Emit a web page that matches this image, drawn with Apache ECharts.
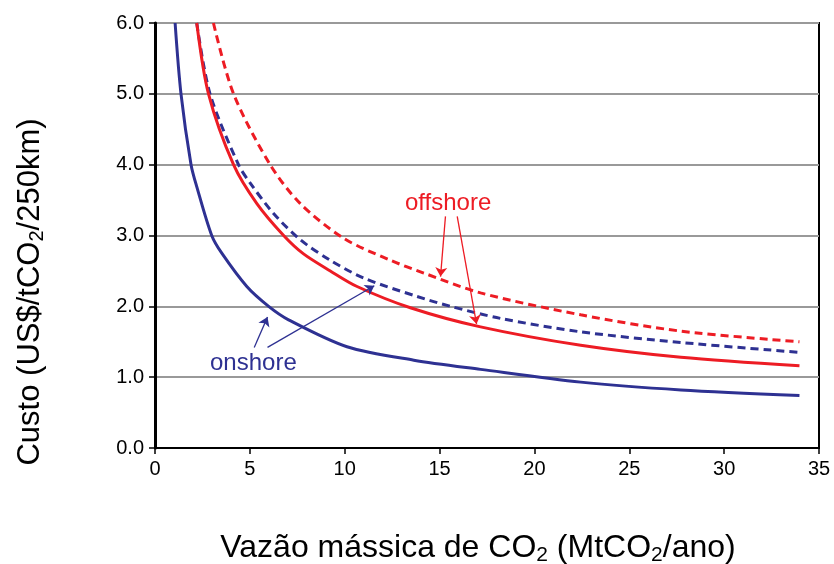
<!DOCTYPE html>
<html>
<head>
<meta charset="utf-8">
<script src="https://cdn.jsdelivr.net/npm/echarts@6/dist/echarts.min.js"></script>
<style>
  html, body { margin: 0; padding: 0; background: #fff; }
  #chart { width: 834px; height: 564px; }
</style>
</head>
<body>
<div id="chart"></div>
<script>
// valores: [vazão MtCO2/ano, custo US$/tCO2/250km]
var onshoreSolid = [[1.06, 6.0], [1.37, 5.0], [1.9, 4.0], [2.2, 3.69], [2.99, 3.0], [3.52, 2.75], [4.84, 2.28],
  [5.99, 2.0], [7.04, 1.81], [10.12, 1.43], [13.64, 1.24], [17.16, 1.11], [22.44, 0.93],
  [27.72, 0.82], [33.97, 0.74]];
var onshoreDashed = [[2.2, 6.0], [2.9, 5.0], [4.4, 4.0], [5.02, 3.74], [6.25, 3.31], [7.66, 2.94], [9.24, 2.65],
  [11.0, 2.4], [13.8, 2.14], [15.58, 2.0], [18.2, 1.83], [22.44, 1.64], [27.72, 1.49], [33.97, 1.35]];
var offshoreSolid = [[2.2, 6.0], [2.82, 5.0], [4.14, 4.0], [5.37, 3.45], [6.78, 3.0], [7.83, 2.74], [9.24, 2.5],
  [10.65, 2.28], [13.46, 1.98], [17.16, 1.71], [22.44, 1.45], [27.72, 1.28], [33.97, 1.16]];
var offshoreDashed = [[3.08, 6.0], [4.14, 5.0], [6.07, 4.0], [7.66, 3.45], [9.95, 2.96], [12.41, 2.65],
  [14.17, 2.47], [17.16, 2.19], [22.44, 1.88], [27.72, 1.65], [33.97, 1.5]];

// setas das anotações (início -> ponta)
var offshoreArrows = [[[15.31, 3.27], [15.05, 2.42]], [[15.93, 3.27], [16.95, 1.75]]];
var onshoreArrows = [[[5.23, 1.42], [5.93, 1.85]], [[5.93, 1.42], [11.56, 2.29]]];

var xTicks = { min: 0, max: 35, interval: 5 };
var yTicks = { min: 0, max: 6, interval: 1 };

var blue = "#2e3192";
var red = "#ed1c24";
var font = "Liberation Sans, Arial, sans-serif";

var myChart = echarts.init(document.getElementById("chart"));

function arrows(list, color) {
  return {
    silent: true,
    symbol: ["none", "arrow"],
    symbolSize: 9,
    label: { show: false },
    lineStyle: { color: color, width: 1.3, type: "solid" },
    data: list.map(function (a) {
      return [{ coord: a[0] }, { coord: a[1] }];
    }),
  };
}

function curve(name, data, color, dashed, extra) {
  var s = {
    name: name,
    type: "line",
    data: data,
    smooth: 0.3,
    symbol: "none",
    lineStyle: { color: color, width: 3, type: dashed ? [8, 5] : "solid" },
    z: 3,
  };
  if (extra) s.markLine = extra;
  return s;
}

// títulos dos eixos com subscrito
function titleRich(size) {
  return {
    n: { fontFamily: font, fontSize: size, fill: "#000", lineHeight: size + 4 },
    s: { fontFamily: font, fontSize: Math.round(size * 0.65), fill: "#000",
      lineHeight: Math.round(size * 0.65), verticalAlign: "bottom" },
  };
}

myChart.setOption({
  animation: false,
  grid: {
    left: 155,
    right: 15,
    top: 23,
    bottom: 116,
    show: true,
    borderColor: "#000",
    borderWidth: 2,
  },
  xAxis: {
    type: "value",
    min: xTicks.min,
    max: xTicks.max,
    interval: xTicks.interval,
    axisLine: { lineStyle: { color: "#000", width: 2 } },
    axisTick: { show: true, length: 6, lineStyle: { color: "#000", width: 1.5 } },
    axisLabel: { color: "#000", fontFamily: font, fontSize: 20, margin: 11 },
    splitLine: { show: false },
  },
  yAxis: {
    type: "value",
    min: yTicks.min,
    max: yTicks.max,
    interval: yTicks.interval,
    axisLine: { show: true, lineStyle: { color: "#000", width: 3 } },
    axisTick: { show: true, length: 6, lineStyle: { color: "#000", width: 1.5 } },
    axisLabel: {
      color: "#000",
      fontFamily: font,
      fontSize: 20,
      margin: 11,
      formatter: function (v) { return v.toFixed(1); },
    },
    splitLine: { show: true, lineStyle: { color: "#999", width: 2 } },
  },
  graphic: [
    {
      type: "text",
      x: 478,
      y: 548,
      style: {
        text: "{n|Vazão mássica de CO}{s|2}{n| (MtCO}{s|2}{n|/ano)}",
        align: "center",
        verticalAlign: "middle",
        rich: titleRich(32),
      },
    },
    {
      type: "text",
      x: 30,
      y: 292,
      rotation: Math.PI / 2,
      style: {
        text: "{n|Custo (US$/tCO}{s|2}{n|/250km)}",
        align: "center",
        verticalAlign: "middle",
        rich: titleRich(31),
      },
    },
    {
      type: "text",
      x: 405,
      y: 203,
      style: { text: "offshore", fill: red, font: "24px " + font, verticalAlign: "middle" },
    },
    {
      type: "text",
      x: 210,
      y: 363,
      style: { text: "onshore", fill: blue, font: "24px " + font, verticalAlign: "middle" },
    },
  ],
  series: [
    curve("onshore", onshoreSolid, blue, false, arrows(onshoreArrows, blue)),
    curve("onshore (tracejado)", onshoreDashed, blue, true),
    curve("offshore", offshoreSolid, red, false, arrows(offshoreArrows, red)),
    curve("offshore (tracejado)", offshoreDashed, red, true),
  ],
});
</script>
</body>
</html>
